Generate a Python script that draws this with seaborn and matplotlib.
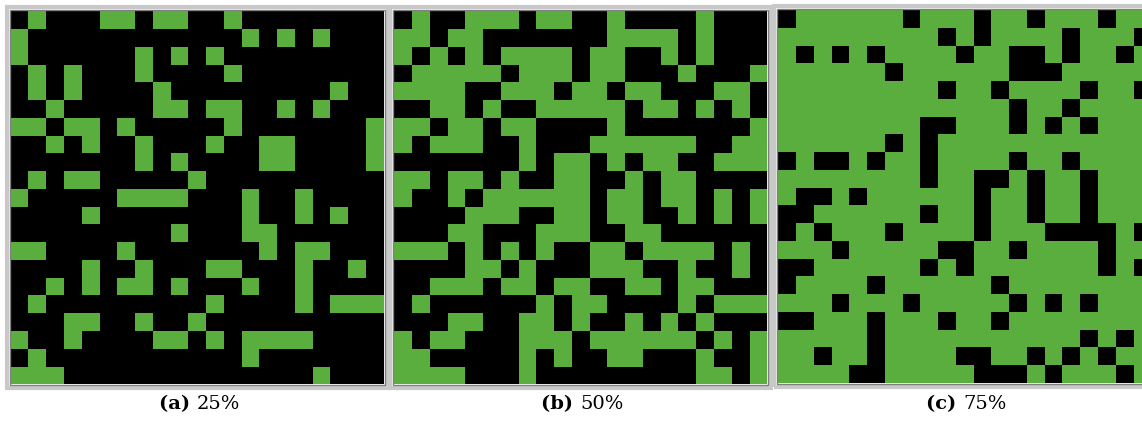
import numpy as np
import matplotlib
matplotlib.use("Agg")
import matplotlib.pyplot as plt
import seaborn as sns
from matplotlib.colors import ListedColormap
from matplotlib.patches import Rectangle

N = 21
GREEN = "#5AAE3E"

# Panel (a): green cells per row
green_a = [
    [1, 5, 6, 8, 9, 12],
    [0, 13, 15, 17],
    [0, 7, 9, 11],
    [1, 3, 7, 12],
    [1, 3, 8, 18],
    [2, 8, 9, 11, 12, 15, 17],
    [0, 1, 3, 4, 6, 12, 20],
    [2, 4, 7, 11, 14, 15, 20],
    [7, 9, 14, 15, 20],
    [1, 3, 4, 10],
    [0, 6, 7, 8, 9, 13, 16],
    [4, 13, 16, 18],
    [9, 13, 14],
    [0, 1, 6, 14, 16, 17],
    [4, 7, 11, 12, 16, 19],
    [2, 4, 6, 7, 9, 13, 16],
    [1, 11, 16, 18, 19, 20],
    [3, 4, 7, 10],
    [0, 3, 8, 9, 11, 13, 14, 15, 16],
    [1, 13],
    [0, 1, 2, 17],
]

# Panel (b): rows as strings, 1 = green, 0 = black
rows_b = [
    "010011101100100001000",
    "110110000000111101000",
    "101010111101100101000",
    "011111011101100010001",
    "111100111011011000110",
    "001101001111101101010",
    "110110110000100000001",
    "101110010001111110011",
    "000000010110101100111",
    "110110100110010110000",
    "100101111110110110101",
    "000011100110110010101",
    "000110001110011000000",
    "111010101001101111010",
    "000011010001110010010",
    "001110110110011011000",
    "010000001011000010111",
    "000110011010010101000",
    "101100011101111110101",
    "110000010100110001001",
    "111100010000000001101",
]

# Panel (c): black cells per row
black_c = [
    [0, 7, 11, 14, 18],
    [9, 11, 16, 20],
    [1, 3, 5, 10, 13, 14, 16, 19],
    [6, 13, 14, 15],
    [9, 12, 17, 20],
    [13, 16],
    [8, 9, 13, 15, 17],
    [6, 8],
    [0, 2, 3, 5, 8, 13, 16],
    [8, 11, 12, 14, 17],
    [1, 2, 4, 11, 14, 17],
    [0, 1, 8, 11, 14, 17],
    [0, 2, 6, 11, 15, 16, 17, 18, 20],
    [3, 9, 10, 13, 18],
    [0, 1, 8, 10, 18, 20],
    [0, 5, 12],
    [3, 7, 13, 15, 17],
    [0, 1, 5, 9, 12],
    [5, 17, 19],
    [2, 5, 10, 11, 14, 16, 18],
    [4, 5, 11, 12, 13, 15, 19],
]

captions_bold = ["(a)", "(b)", "(c)"]
captions_text = ["25%", "50%", "75%"]

grid_a = np.zeros((N, N), dtype=int)
for r, cols in enumerate(green_a):
    grid_a[r, cols] = 1
grid_b = np.array([[int(ch) for ch in row] for row in rows_b])
grid_c = np.ones((N, N), dtype=int)
for r, cols in enumerate(black_c):
    grid_c[r, cols] = 0

W, H = 1142, 429
fig = plt.figure(figsize=(W / 100, H / 100), dpi=100)
cmap = ListedColormap(["black", GREEN])

# pixel boxes (left, top, size)
boxes = [(10.7, 11.3, 373), (394.3, 11.3, 373), (778.3, 10.0, 373)]
centers = [197, 580, 963]
for grid, (lx, ty, sz), cx, cb, ct in zip([grid_a, grid_b, grid_c], boxes, centers,
                                         captions_bold, captions_text):
    ax = fig.add_axes([lx / W, 1 - (ty + sz) / H, sz / W, sz / H])
    sns.heatmap(grid, ax=ax, cmap=cmap, vmin=0, vmax=1, cbar=False,
                xticklabels=False, yticklabels=False, linewidths=0)
    ax.set_xticks([]); ax.set_yticks([])
    # window-like frame
    fig.patches.append(Rectangle(((lx - 4) / W, 1 - (ty + sz + 4) / H), (sz + 8) / W,
                                 (sz + 8) / H, transform=fig.transFigure, fill=False,
                                 edgecolor="#c8c8c8", linewidth=3, zorder=5))
    fig.patches.append(Rectangle(((lx - 1) / W, 1 - (ty + sz + 1) / H), (sz + 2) / W,
                                 (sz + 2) / H, transform=fig.transFigure, fill=False,
                                 edgecolor="#808080", linewidth=1, zorder=6))
    fig.text(cx / W, 1 - 404 / H, cb + " ", ha="right", va="center",
             fontsize=14, fontweight="bold", family="DejaVu Serif")
    fig.text(cx / W, 1 - 404 / H, ct, ha="left", va="center",
             fontsize=14, family="DejaVu Serif")

fig.savefig("out.png", dpi=100)
